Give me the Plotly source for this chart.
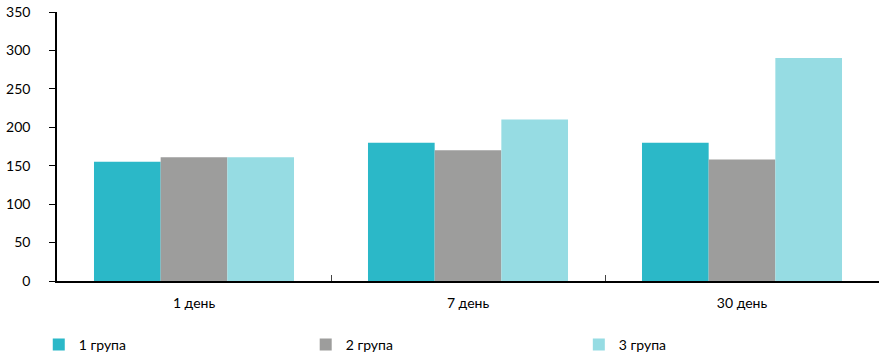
import plotly.graph_objects as go

categories = ["1 день", "7 день", "30 день"]
group1 = [155, 180, 180]
group2 = [161, 170, 158]
group3 = [161, 210, 290]
series_names = ["1 група", "2 група", "3 група"]
colors = ["#2BB8C8", "#9D9D9C", "#96DCE3"]
y_ticks = [0, 50, 100, 150, 200, 250, 300, 350]

legend_ids = ["legend", "legend2", "legend3"]
legend_x = [0.044, 0.347, 0.657]

fig = go.Figure()
for name, vals, col, lid in zip(series_names, [group1, group2, group3], colors, legend_ids):
    fig.add_trace(go.Bar(x=categories, y=vals, name=name, legend=lid,
                         marker=dict(color=col, line=dict(width=0))))

legend_common = dict(xref="container", yref="container", y=0.034, yanchor="middle",
                     xanchor="left", orientation="h", itemwidth=30,
                     font=dict(size=14), bgcolor="rgba(0,0,0,0)")

fig.update_layout(
    width=881, height=357,
    margin=dict(l=57, r=2, t=12, b=76, autoexpand=False),
    paper_bgcolor="white", plot_bgcolor="white",
    barmode="group", bargap=0.27, bargroupgap=0,
    font=dict(family="Lato, 'Open Sans', sans-serif", size=14, color="#000"),
    showlegend=True,
    legend=dict(x=legend_x[0], **legend_common),
    legend2=dict(x=legend_x[1], **legend_common),
    legend3=dict(x=legend_x[2], **legend_common),
    xaxis=dict(showline=True, linecolor="#000", linewidth=1.5, ticks="inside",
               tickson="boundaries", ticklen=6, tickcolor="#444", showgrid=False,
               ticklabelstandoff=8, tickfont=dict(size=14)),
    yaxis=dict(range=[0, 350], tickvals=y_ticks, showline=True, linecolor="#000",
               linewidth=1.5, ticks="outside", ticklen=6, tickcolor="#000",
               showgrid=False, zeroline=False, ticklabelstandoff=16,
               tickfont=dict(size=14)),
)

fig.write_html("out.html")
